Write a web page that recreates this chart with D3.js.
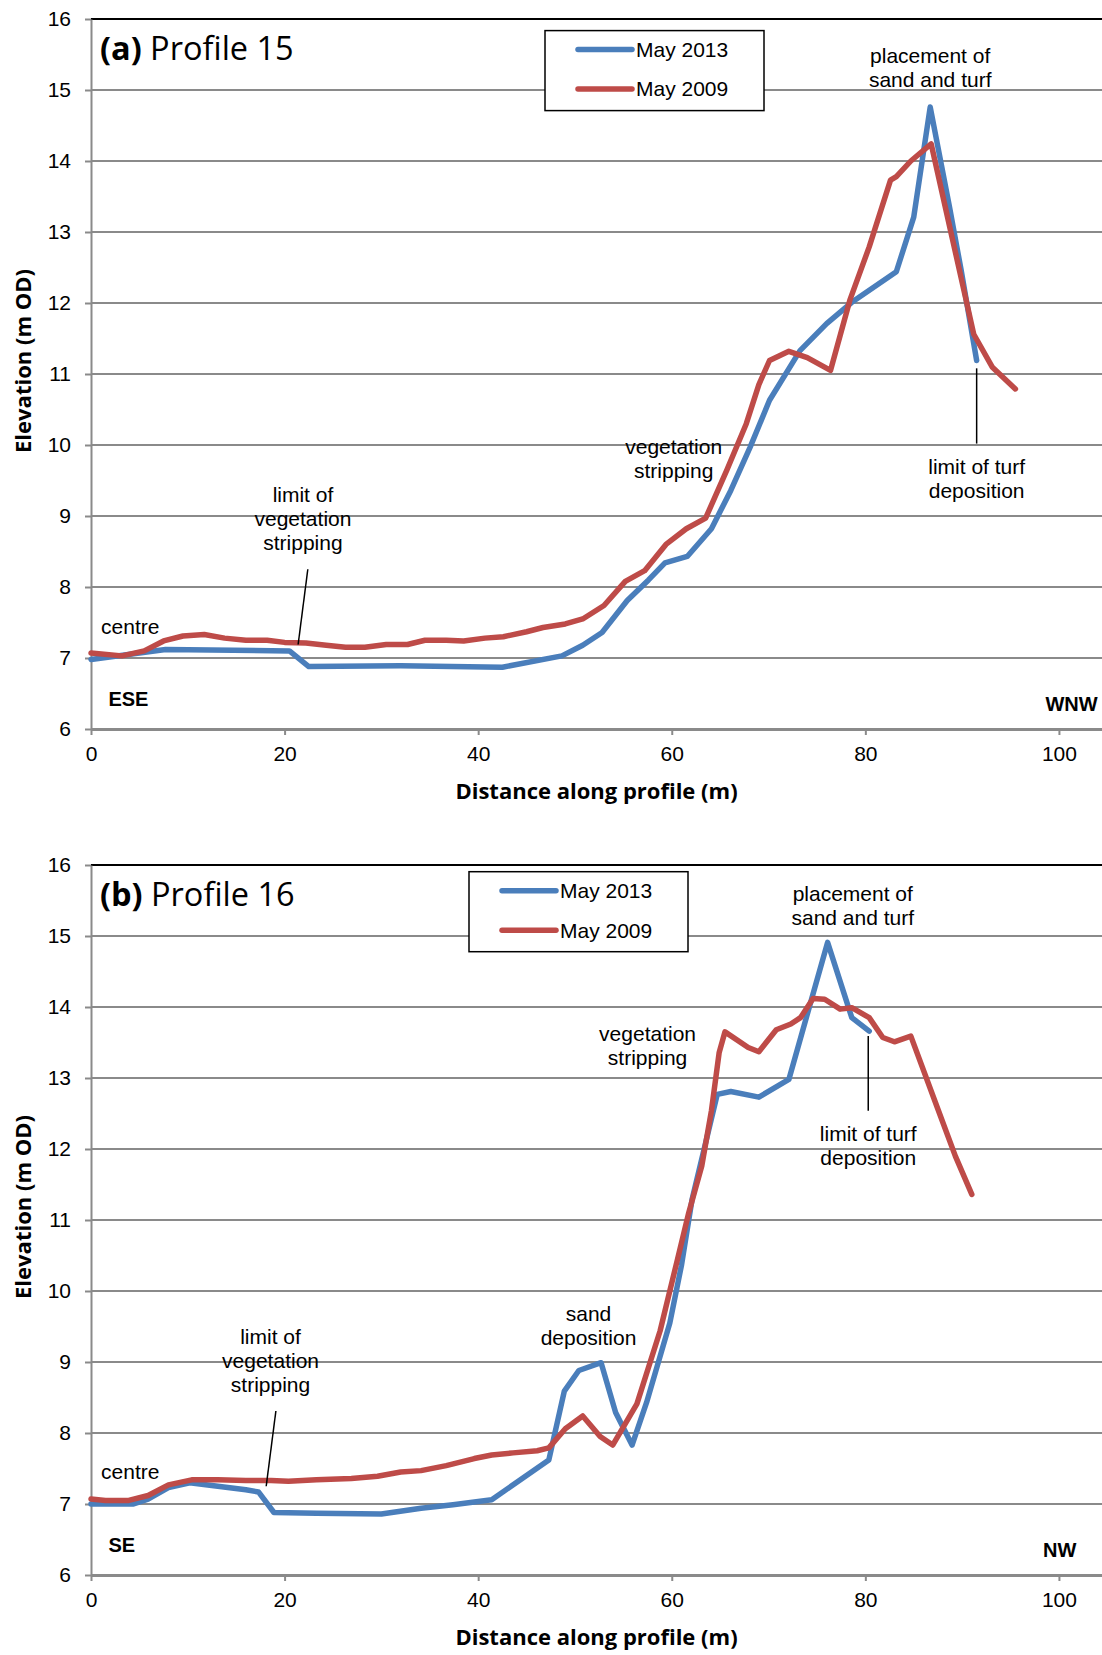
<!DOCTYPE html>
<html>
<head>
<meta charset="utf-8">
<title>Profiles 15 and 16</title>
<script src="https://d3js.org/d3.v7.min.js"></script>
<style>
  body{margin:0;background:#fff;}
  text{font-family:"Liberation Sans",Arial,sans-serif;}
</style>
</head>
<body>
<script>
// ticks
var xTicks=[0,20,40,60,80,100];
var yTicks=[6,7,8,9,10,11,12,13,14,15,16];
var seriesNames=["May 2013","May 2009"];
var seriesColors=["#4a7ebb","#be4b48"];

// profile 15
var p15Dist2013=[0,7.7,20.5,22.5,32,42.5,48.65,50.8,52.8,55.4,57.6,59.3,61.6,64.1,66.1,68.1,70.1,73.25,76.0,78.6,83.2,85.0,86.7,88.7,89.9,91.5];
var p15Elev2013=[6.98,7.12,7.10,6.88,6.89,6.87,7.03,7.18,7.36,7.81,8.10,8.34,8.43,8.82,9.36,9.97,10.63,11.33,11.71,12.01,12.44,13.21,14.76,13.35,12.46,11.19];
var p15Dist2009=[0,3.2,5.5,7.5,9.5,11.7,13.8,16,18.2,20,22.2,24.3,26.3,28.3,30.5,32.7,34.5,36.7,38.5,40.7,42.6,45,46.7,49.0,50.8,53.0,55.2,57.2,59.4,61.5,63.5,65.7,67.7,69.0,70.1,72.1,74.0,76.4,78.4,80.4,82.6,83.2,84.7,86.8,89.0,91.2,93.1,95.5];
var p15Elev2009=[7.07,7.03,7.10,7.24,7.31,7.33,7.28,7.25,7.25,7.22,7.21,7.18,7.15,7.15,7.19,7.19,7.25,7.25,7.24,7.28,7.30,7.37,7.43,7.48,7.55,7.74,8.08,8.23,8.60,8.82,8.97,9.65,10.30,10.85,11.19,11.32,11.23,11.05,12.04,12.79,13.73,13.78,14.00,14.24,12.90,11.56,11.10,10.79];

// profile 16
var p16Dist2013=[0,4.4,5.9,8.0,10.2,13.1,16.0,17.3,18.9,23.3,30.0,34.1,37.4,41.4,47.3,48.9,50.4,52.7,54.2,55.9,57.4,59.8,61.0,62.1,64.7,66.1,69.0,72.1,76.1,78.6,80.4];
var p16Elev2013=[7.00,7.00,7.07,7.23,7.30,7.25,7.20,7.17,6.88,6.87,6.86,6.94,6.99,7.06,7.62,8.59,8.88,8.99,8.29,7.83,8.43,9.55,10.36,11.29,12.77,12.81,12.73,12.98,14.91,13.85,13.66];
var p16Dist2009=[0,1.5,3.9,5.9,8.0,10.4,13.1,16.0,18.6,20.4,23.3,26.9,29.6,32.0,34.1,36.7,39.6,41.4,43.6,46.1,47.3,49.0,50.8,52.6,53.9,56.4,58.8,60.6,61.75,63.1,64.1,64.9,65.5,67.9,69.0,70.8,72.3,73.3,74.6,75.8,77.4,78.6,80.4,81.8,83.0,84.7,87.5,89.3,91.0];
var p16Elev2009=[7.07,7.05,7.05,7.12,7.27,7.34,7.34,7.33,7.33,7.32,7.34,7.36,7.39,7.45,7.47,7.54,7.64,7.69,7.72,7.75,7.79,8.06,8.24,7.95,7.83,8.41,9.44,10.45,11.10,11.76,12.54,13.36,13.65,13.43,13.37,13.68,13.76,13.85,14.12,14.11,13.97,13.99,13.85,13.57,13.51,13.59,12.56,11.90,11.36];

// annotations (distance, elevation of first line)
var notes15=[
  {lines:["placement of","sand and turf"],x:86.7,y:15.48},
  {lines:["vegetation","stripping"],x:60.2,y:9.97},
  {lines:["limit of turf","deposition"],x:91.5,y:9.69},
  {lines:["limit of","vegetation","stripping"],x:21.9,y:9.30},
  {lines:["centre"],x:4.06,y:7.44}
];
var leaders15=[[91.5,11.08,91.5,10.02],[22.4,8.25,21.4,7.19]];
var notes16=[
  {lines:["placement of","sand and turf"],x:78.7,y:15.60},
  {lines:["vegetation","stripping"],x:57.5,y:13.62},
  {lines:["limit of turf","deposition"],x:80.3,y:12.21},
  {lines:["sand","deposition"],x:51.4,y:9.68},
  {lines:["limit of","vegetation","stripping"],x:18.55,y:9.36},
  {lines:["centre"],x:4.06,y:7.45}
];
var leaders16=[[80.3,13.59,80.3,12.54],[19.1,8.31,18.1,7.25]];

var W=1102,H=1655;
var svg=d3.select("body").append("svg").attr("width",W).attr("height",H);

function panel(o){
  var g=svg.append("g");
  var left=91,right=1102,top=o.top,bottom=o.top+710;
  var x=d3.scaleLinear().domain([0,104.45]).range([left,right]);
  var y=d3.scaleLinear().domain([6,16]).range([bottom,top]);

  // gridlines
  g.selectAll(".grid").data(yTicks.filter(function(v){return v>6&&v<16;}))
    .enter().append("line")
    .attr("x1",left).attr("x2",right)
    .attr("y1",function(d){return y(d);}).attr("y2",function(d){return y(d);})
    .attr("stroke","#8a8a8a").attr("stroke-width",2);
  g.append("line").attr("x1",left).attr("x2",right).attr("y1",top).attr("y2",top)
    .attr("stroke","#000").attr("stroke-width",2);

  var xa=g.append("g").attr("transform","translate(0,"+bottom+")")
    .call(d3.axisBottom(x).tickValues(xTicks).tickSize(6).tickSizeOuter(0).tickPadding(11));
  xa.select(".domain").attr("stroke","#8a8a8a").attr("stroke-width",3);
  var ya=g.append("g").attr("transform","translate("+left+",0)")
    .call(d3.axisLeft(y).tickValues(yTicks).tickSize(6).tickSizeOuter(0).tickPadding(14));
  ya.select(".domain").attr("stroke","#8a8a8a").attr("stroke-width",2);
  [xa,ya].forEach(function(a){
    a.selectAll(".tick line").attr("stroke","#8a8a8a").attr("stroke-width",2);
    a.selectAll(".tick text").attr("fill","#000")
      .style("font-family","'Liberation Sans',Arial,sans-serif").style("font-size","21px");
  });

  // series
  var line=d3.line().x(function(d){return x(d[0]);}).y(function(d){return y(d[1]);});
  o.series.forEach(function(s,i){
    g.append("path").datum(d3.zip(s[0],s[1]))
      .attr("d",line).attr("fill","none")
      .attr("stroke",seriesColors[i]).attr("stroke-width",5.5)
      .attr("stroke-linejoin","round").attr("stroke-linecap","round");
  });

  // leader lines
  o.leaders.forEach(function(l){
    g.append("line").attr("x1",x(l[0])).attr("y1",y(l[1])).attr("x2",x(l[2])).attr("y2",y(l[3]))
      .attr("stroke","#000").attr("stroke-width",1.5);
  });

  // notes
  o.notes.forEach(function(n){
    n.lines.forEach(function(t,k){
      g.append("text").attr("x",x(n.x)).attr("y",y(n.y)+k*24).attr("dy","0.35em")
        .attr("text-anchor","middle").style("font-size","21px").text(t);
    });
  });

  // direction labels
  g.append("text").attr("x",x(1.8)).attr("y",y(6.42)).attr("dy","0.35em")
    .style("font-size","20px").style("font-weight","bold").text(o.dirLeft);
  g.append("text").attr("x",x(o.dirRightX)).attr("y",y(6.35)).attr("dy","0.35em")
    .attr("text-anchor","end").style("font-size","20px").style("font-weight","bold").text(o.dirRight);

  // panel title
  var tt=g.append("text").attr("x",100).attr("y",top+41)
    .style("font-family","'Open Sans',sans-serif").style("font-size","32.5px");
  tt.append("tspan").style("font-weight","bold").text(o.tag);
  tt.append("tspan").text(" "+o.title);

  // axis titles
  g.append("text").attr("x",(left+right)/2).attr("y",bottom+62).attr("dy","0.35em")
    .attr("text-anchor","middle")
    .style("font-family","'Open Sans',sans-serif").style("font-weight","bold").style("font-size","22px")
    .text("Distance along profile (m)");
  g.append("text").attr("transform","translate(23,"+(top+342)+") rotate(-90)").attr("dy","0.35em")
    .attr("text-anchor","middle")
    .style("font-family","'Open Sans',sans-serif").style("font-weight","bold").style("font-size","22px")
    .text("Elevation (m OD)");

  // legend
  var lg=g.append("g").attr("transform","translate("+o.legX+","+(top+o.legY)+")");
  lg.append("rect").attr("width",219).attr("height",80).attr("fill","#fff")
    .attr("stroke","#000").attr("stroke-width",1.5);
  seriesNames.forEach(function(nm,i){
    var yy=19+i*39.5;
    lg.append("line").attr("x1",33).attr("x2",87).attr("y1",yy).attr("y2",yy)
      .attr("stroke",seriesColors[i]).attr("stroke-width",5.5).attr("stroke-linecap","round");
    lg.append("text").attr("x",91).attr("y",yy).attr("dy","0.35em")
      .style("font-size","21px").text(nm);
  });
}

panel({top:19,tag:"(a)",title:"Profile 15",
  series:[[p15Dist2013,p15Elev2013],[p15Dist2009,p15Elev2009]],
  notes:notes15,leaders:leaders15,dirLeft:"ESE",dirRight:"WNW",dirRightX:104.0,
  legX:545,legY:11.6});
panel({top:865,tag:"(b)",title:"Profile 16",
  series:[[p16Dist2013,p16Elev2013],[p16Dist2009,p16Elev2009]],
  notes:notes16,leaders:leaders16,dirLeft:"SE",dirRight:"NW",dirRightX:101.8,
  legX:469,legY:6.7});
</script>
</body>
</html>
